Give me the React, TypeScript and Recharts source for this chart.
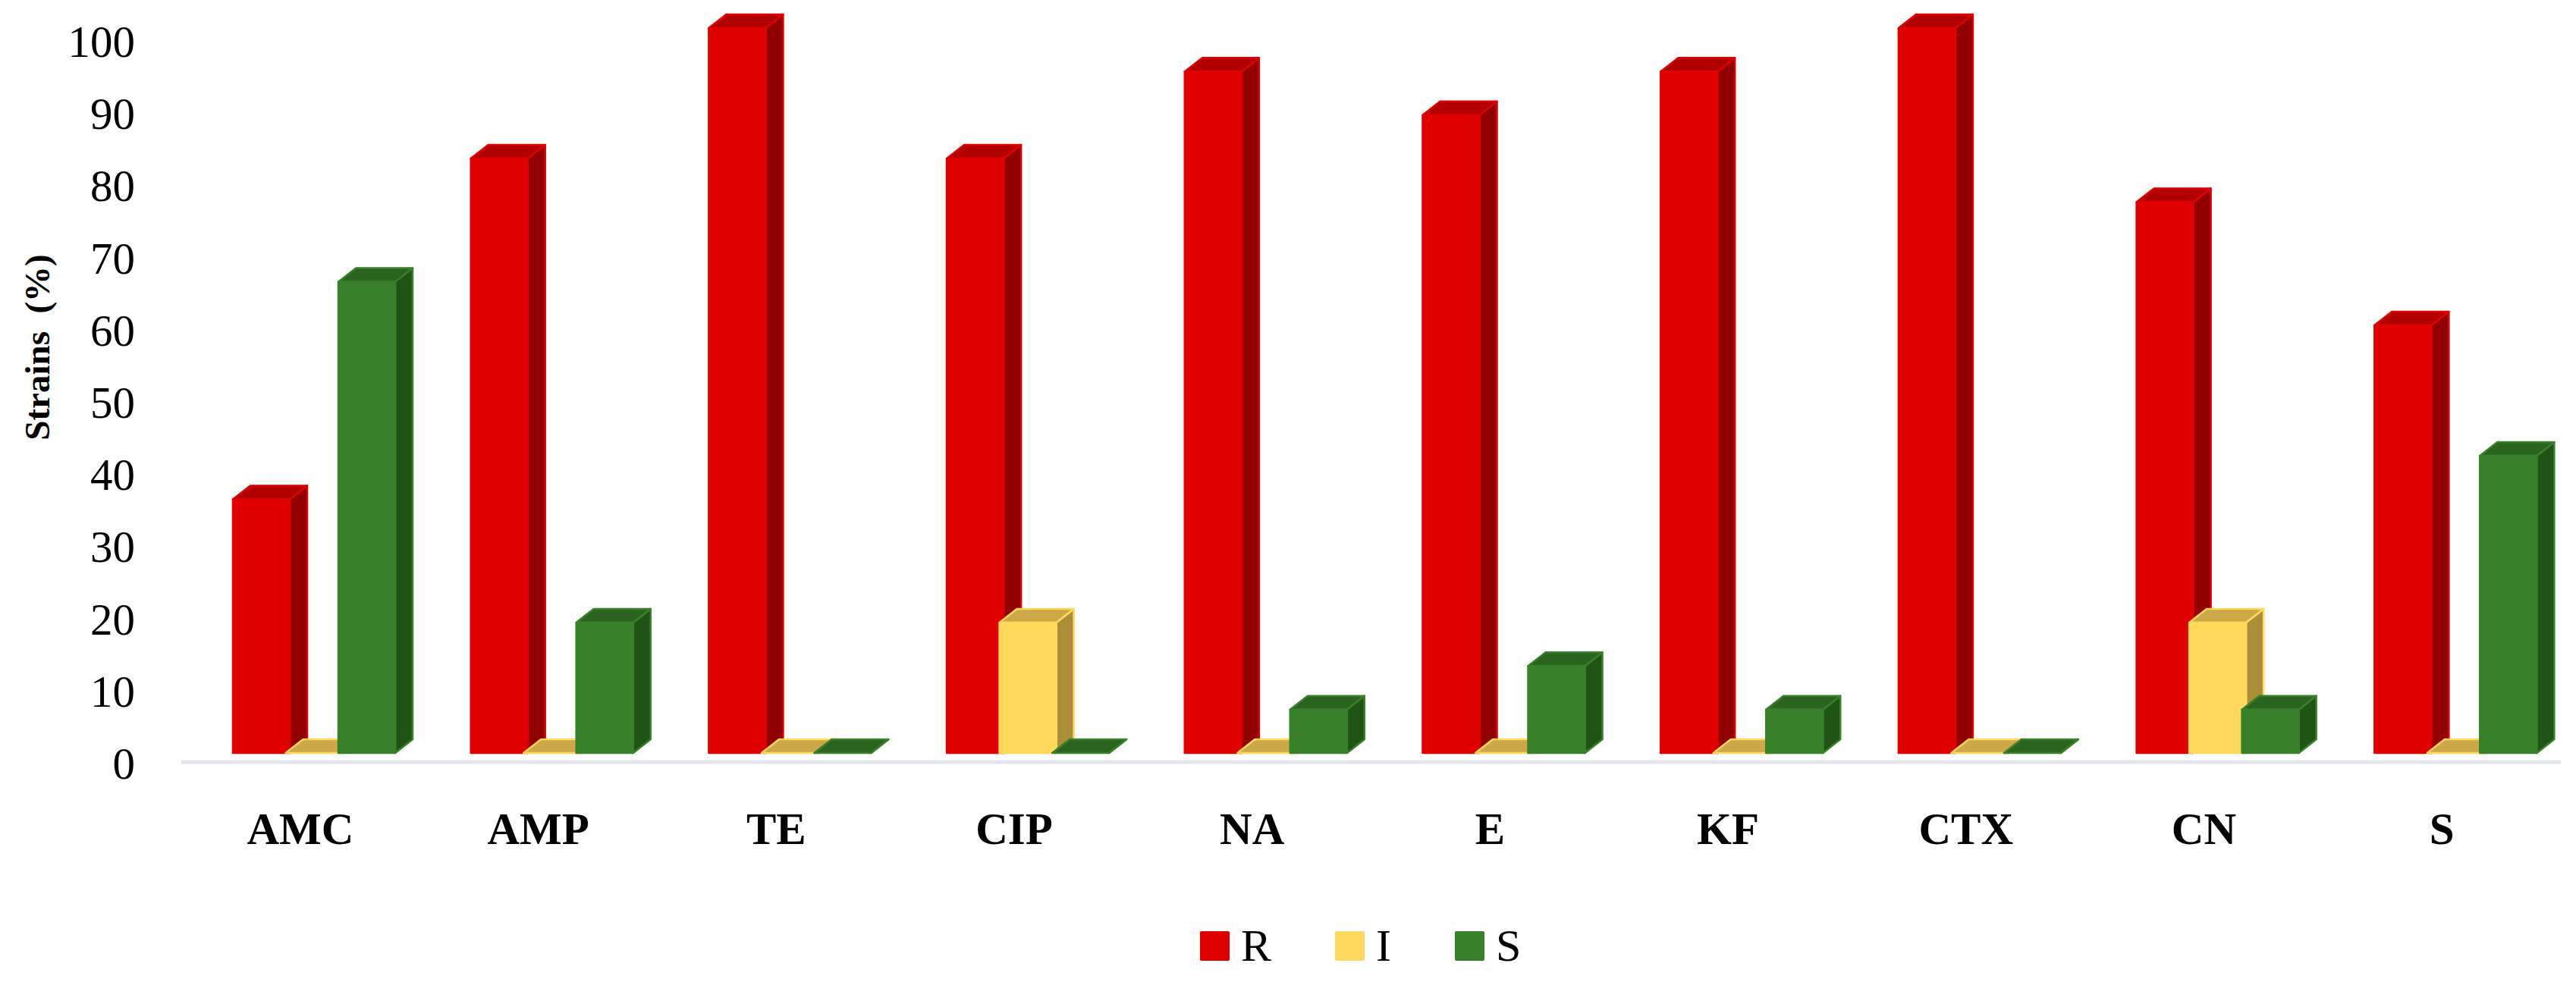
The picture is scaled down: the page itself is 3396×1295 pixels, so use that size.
import { BarChart, Bar, XAxis, YAxis, Legend } from "recharts";

const CATEGORIES = ["AMC", "AMP", "TE", "CIP", "NA", "E", "KF", "CTX", "CN", "S"];
const R_VALUES = [35, 82, 100, 82, 94, 88, 94, 100, 76, 59];
const I_VALUES = [0, 0, 0, 18, 0, 0, 0, 0, 18, 0];
const S_VALUES = [65, 18, 0, 0, 6, 12, 6, 0, 6, 41];
const Y_TICKS = [0, 10, 20, 30, 40, 50, 60, 70, 80, 90, 100];

const FONT = '"Liberation Serif", serif';

const data = CATEGORIES.map((name, i) => ({
  name,
  R: R_VALUES[i],
  I: I_VALUES[i],
  S: S_VALUES[i],
}));

const DEPTH_X = 23;
const DEPTH_Y = 18;
const FRONT_SHIFT = 18; // the 3d front plane sits right of the floor bands

// fake 3d column: front, side and top face
const column = (front: string, side: string, top: string) => (props: any) => {
  const x = props.x + FRONT_SHIFT;
  const { y, width, height } = props;
  const r = x + width;
  const b = y + height;
  return (
    <g stroke={front} strokeWidth={2.5} strokeLinejoin="round">
      <polygon points={`${r},${y} ${r + DEPTH_X},${y - DEPTH_Y} ${r + DEPTH_X},${b - DEPTH_Y} ${r},${b}`} fill={side} />
      <polygon points={`${x},${y} ${x + DEPTH_X},${y - DEPTH_Y} ${r + DEPTH_X},${y - DEPTH_Y} ${r},${y}`} fill={top} />
      {height > 0 && <rect x={x} y={y} width={width} height={height} fill={front} />}
    </g>
  );
};

// tick labels run on a slightly tighter scale than the columns
const YTick = ({ y, payload }: any) => (
  <text x={178} y={y + 34 + payload.value * 0.04} textAnchor="end" fontFamily={FONT} fontSize={59} fill="#000">
    {payload.value}
  </text>
);

const LegendRow = ({ payload }: any) => (
  <div style={{ display: "flex", gap: 84, height: 45, fontFamily: FONT, fontSize: 60, color: "#000" }}>
    {payload.map((p: any) => (
      <div key={p.value} style={{ display: "flex", alignItems: "center", height: 45 }}>
        <span style={{ display: "inline-block", width: 39, height: 39, background: p.color, borderRadius: 2, marginRight: 15 }} />
        <span style={{ lineHeight: "45px" }}>{p.value}</span>
      </div>
    ))}
  </div>
);

export default function App() {
  return (
    <div style={{ position: "absolute", left: 0, top: 0, width: 3396, height: 1295, background: "#fff" }}>
      <BarChart
        width={3396}
        height={1295}
        data={data}
        margin={{ top: 37, right: 20, left: 0, bottom: 0 }}
        barSize={75}
        barGap={-5.5}
      >
        <XAxis
          dataKey="name"
          height={290}
          interval={0}
          axisLine={{ stroke: "#e2e4ea", strokeWidth: 5 }}
          tickLine={false}
          tickMargin={60}
          tick={{ fontFamily: FONT, fontSize: 59, fontWeight: 700, fill: "#000" }}
        />
        <YAxis
          width={239}
          domain={[-1.25, 100]}
          ticks={Y_TICKS}
          interval={0}
          axisLine={false}
          tickLine={false}
          tick={YTick}
          label={{
            value: "Strains\u00a0\u00a0(%)",
            angle: -90,
            position: "insideLeft",
            dx: 43,
            dy: -63,
            style: { fontFamily: FONT, fontSize: 47, fontWeight: 700, fill: "#000", textAnchor: "middle" },
          }}
        />
        <Legend
          verticalAlign="middle"
          align="center"
          itemSorter={null}
          content={LegendRow}
          wrapperStyle={{ position: "absolute", left: 1582, top: 1225, width: 450, height: 50 }}
        />
        <Bar dataKey="R" fill="#e00000" isAnimationActive={false} shape={column("#e00000", "#900000", "#b00000")} />
        <Bar dataKey="I" fill="#ffd85c" isAnimationActive={false} shape={column("#ffd85c", "#ab8f38", "#cca848")} />
        <Bar dataKey="S" fill="#38802a" isAnimationActive={false} shape={column("#38802a", "#1f5416", "#2a641e")} />
      </BarChart>
    </div>
  );
}
